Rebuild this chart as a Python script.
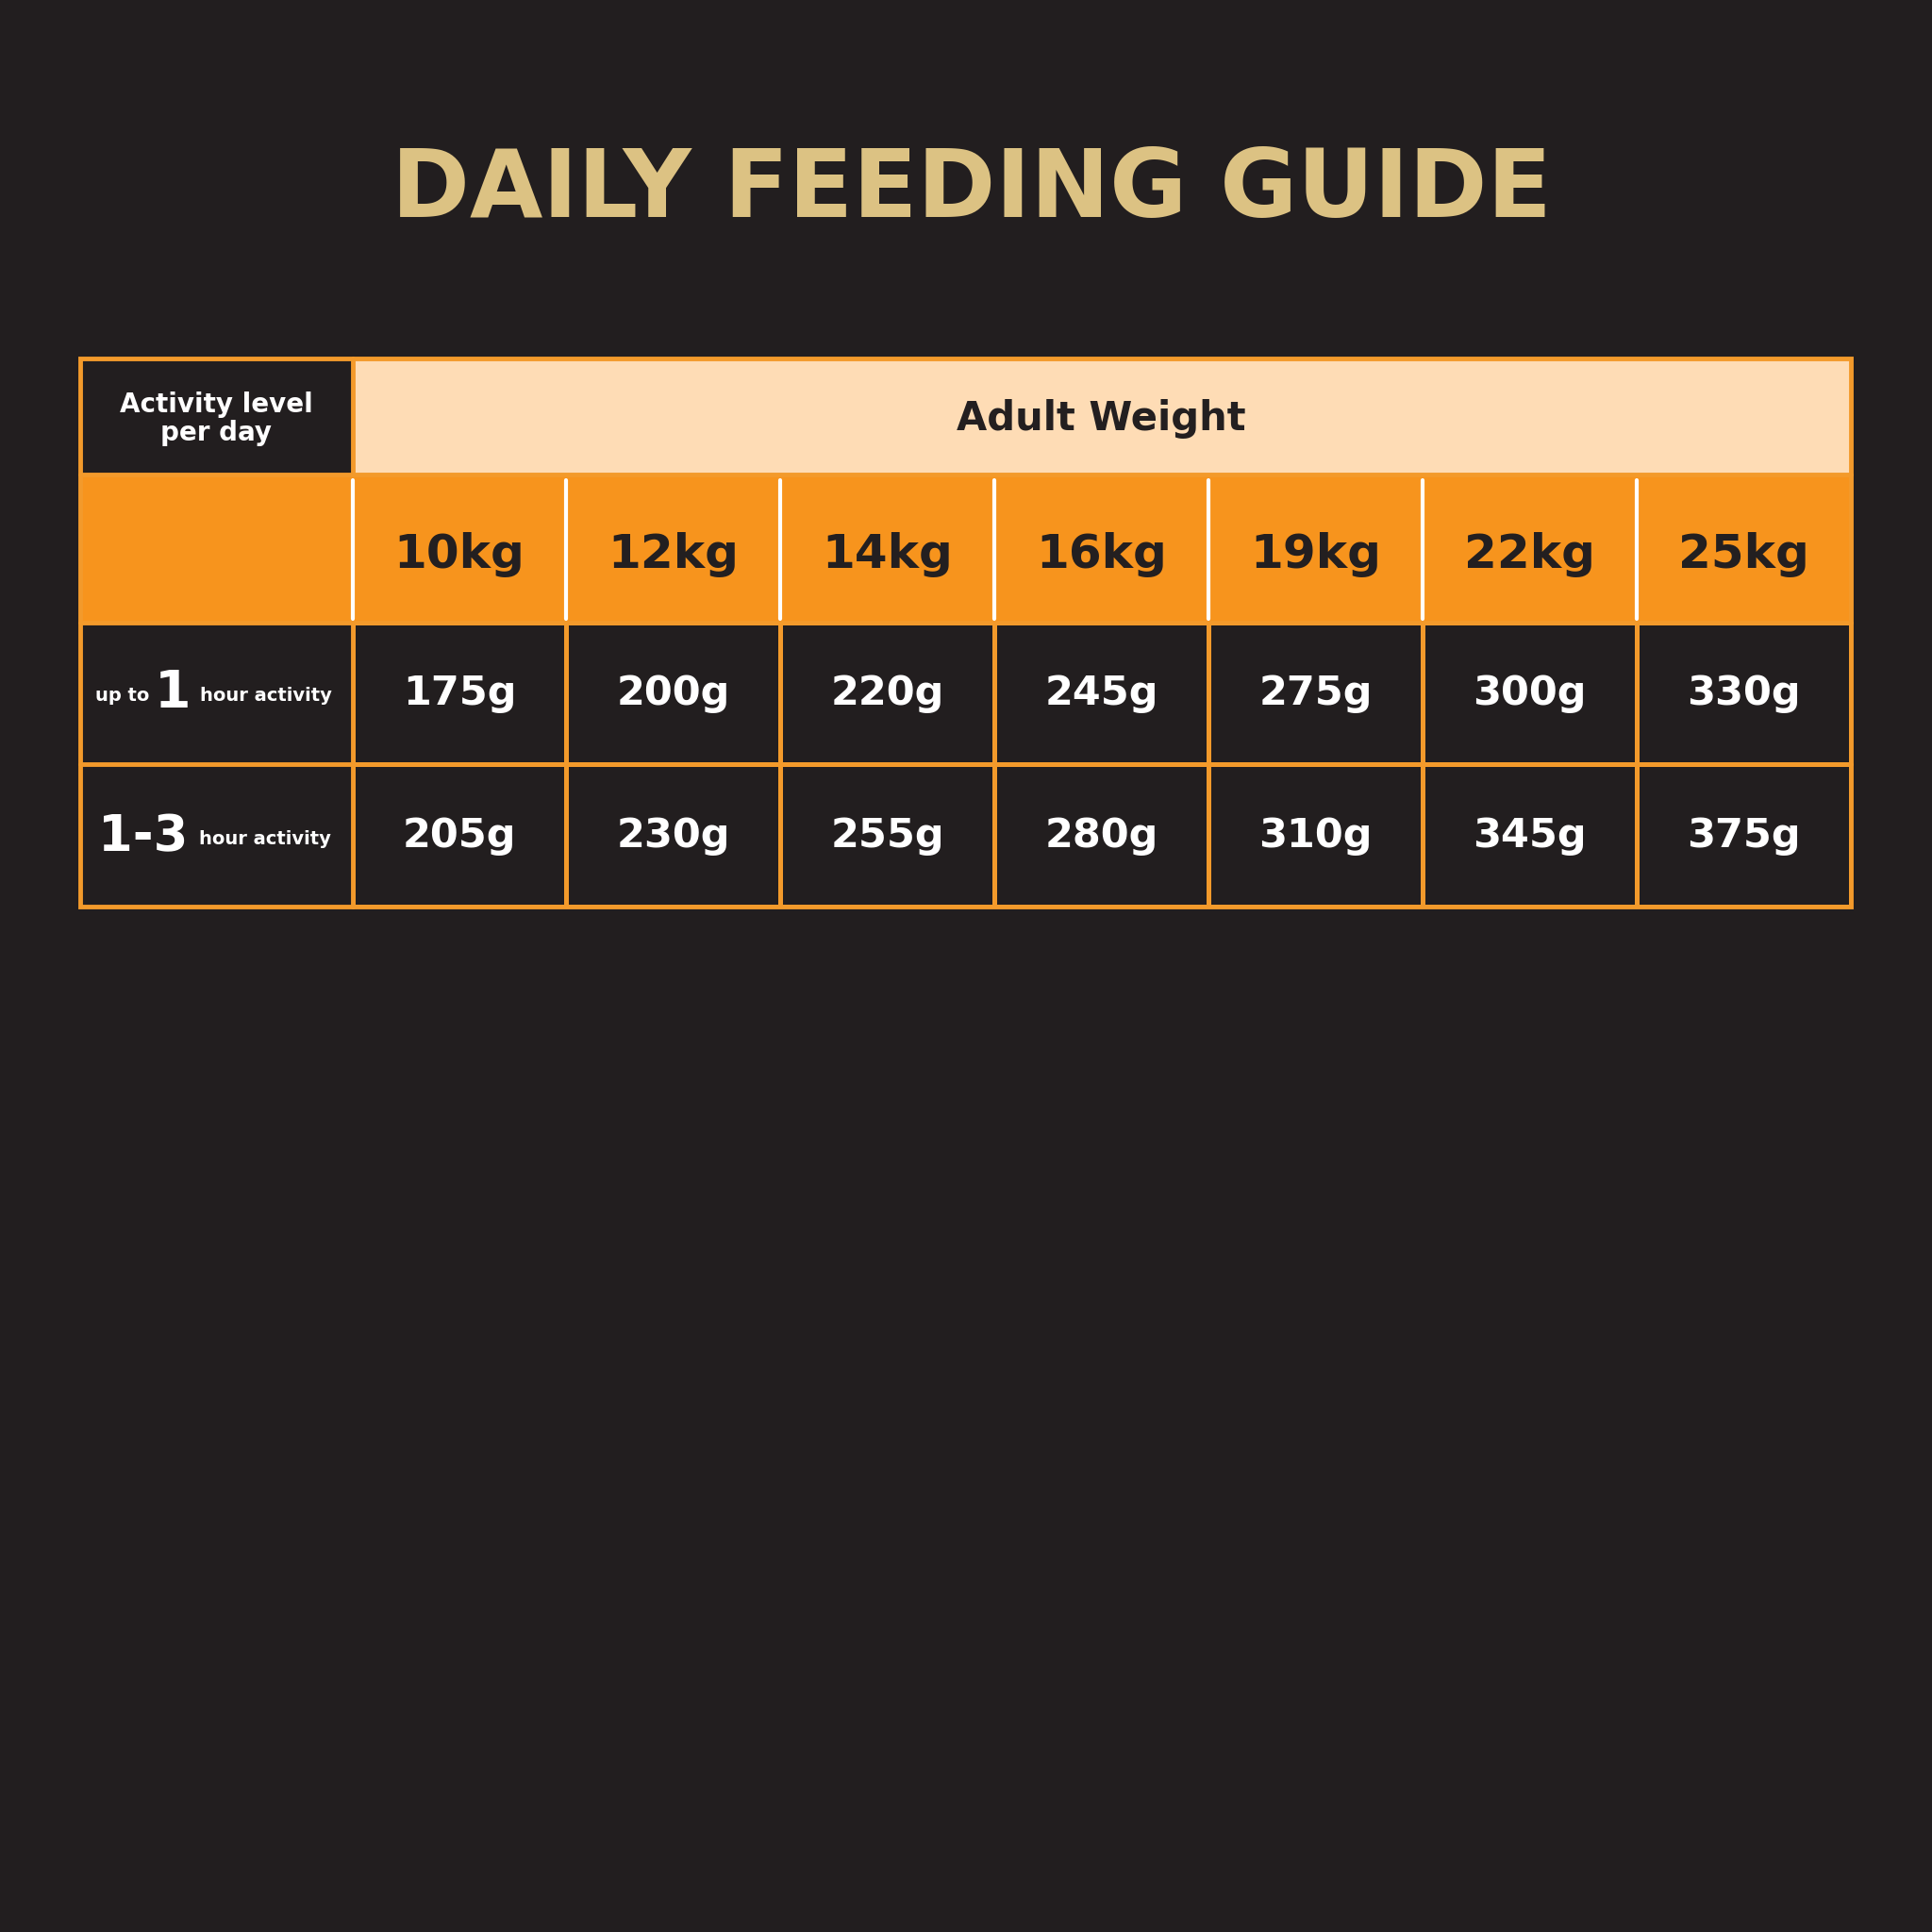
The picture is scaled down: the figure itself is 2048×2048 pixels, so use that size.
import numpy as np, pandas as pd, seaborn as sns, matplotlib
matplotlib.use("Agg")
import matplotlib.pyplot as plt
from matplotlib.colors import ListedColormap
from matplotlib.patches import Rectangle

weights = ["10kg","12kg","14kg","16kg","19kg","22kg","25kg"]
row_labels = ["up to 1 hour activity", "1-3 hour activity"]
up_to_1h = [175,200,220,245,275,300,330]
h1_3 = [205,230,255,280,310,345,375]

BG="#221e1f"; GOLD="#dcc283"; ORANGE="#f7941d"; PEACH="#fedcb5"; LINE="#f39a2b"; DARK="#231f20"
sns.set_theme(style="white")
FONT=["Liberation Sans Narrow","DejaVu Sans"]
plt.rcParams['font.family']=FONT
fig=plt.figure(figsize=(20.48,20.48),dpi=100,facecolor=BG)
S=1568.0
def fx(x): return x/S
def fy(y): return 1-y/S

fig.text(0.503,fy(155),"DAILY FEEDING GUIDE",color=GOLD,fontsize=72,fontweight="bold",ha="center",va="center")

L,R,C1=65,1502,286
cw=(R-C1)/7
ax=fig.add_axes([0,0,1,1]); ax.set_xlim(0,S); ax.set_ylim(S,0); ax.axis("off")
ax.add_patch(Rectangle((C1,291),R-C1,94,facecolor=PEACH,edgecolor="none"))
ax.add_patch(Rectangle((L,385),R-L,120,facecolor=ORANGE,edgecolor="none"))
for i,w in enumerate(weights):
    x=C1+cw*(i+0.5)
    ax.text(x,450,w,color=DARK,fontsize=36,fontweight="bold",ha="center",va="center")
    ax.plot([C1+cw*i]*2,[390,502],color="white",lw=3)
ax.text((C1+R)/2,340,"Adult Weight",color=DARK,fontsize=30,fontweight="bold",ha="center",va="center")
ax.text((L+C1)/2,340,"Activity level\nper day",color="white",fontsize=20,fontweight="bold",ha="center",va="center",linespacing=1.1)
ax.text(99,565,"up to",color="white",fontsize=14,fontweight="bold",ha="center",va="center")
ax.text(140,563,"1",color="white",fontsize=40,fontweight="bold",ha="center",va="center")
ax.text(216,565,"hour activity",color="white",fontsize=14,fontweight="bold",ha="center",va="center")
ax.text(116,679,"1-3",color="white",fontsize=38,fontweight="bold",ha="center",va="center")
ax.text(215,681,"hour activity",color="white",fontsize=14,fontweight="bold",ha="center",va="center")
ax.add_patch(Rectangle((L,291),R-L,736-291,facecolor="none",edgecolor=LINE,lw=3.5))
for y in (385,505,620):
    ax.plot([L,R],[y,y],color=LINE,lw=3.5)
ax.plot([C1,C1],[291,385],color=LINE,lw=3.5)
ax.plot([C1,C1],[505,736],color=LINE,lw=3.5)

df=pd.DataFrame([up_to_1h,h1_3],index=row_labels,columns=weights)
hax=fig.add_axes([fx(C1),fy(736),fx(R-C1),(736-505)/S])
annot=df.map(lambda v:f"{v}g")
sns.heatmap(df,ax=hax,cmap=ListedColormap([BG]),cbar=False,annot=annot,fmt="",
            linewidths=3.5,linecolor=LINE,annot_kws=dict(color="white",fontsize=31,fontweight="bold",family=FONT))
hax.set_xticks([]); hax.set_yticks([]); hax.set_xlabel(""); hax.set_ylabel("")
fig.savefig("out.png",facecolor=BG)
